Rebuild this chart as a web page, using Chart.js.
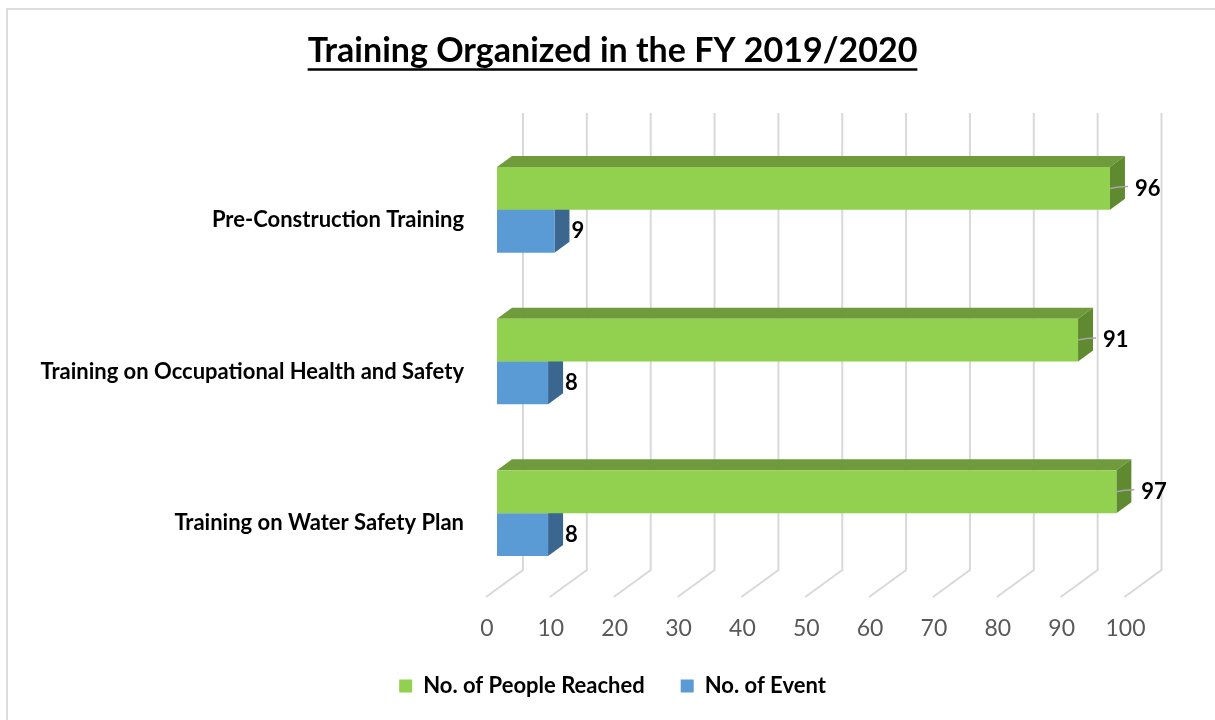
<!DOCTYPE html>
<html>
<head>
<meta charset="utf-8">
<script src="https://cdn.jsdelivr.net/npm/chart.js@4.4.1/dist/chart.umd.min.js"></script>
<style>
  html, body { margin: 0; padding: 0; background: #fff; }
  #wrap { position: relative; width: 1215px; height: 720px; }
  #frame { position: absolute; left: 6px; top: 8px; width: 1300px; height: 800px;
           border-left: 2px solid #dcdcdc; border-top: 2px solid #dcdcdc; }
  canvas { position: absolute; left: 0; top: 0; }
</style>
</head>
<body>
<div id="wrap">
  <div id="frame"></div>
  <canvas id="trainingChart" width="1215" height="720"></canvas>
</div>
<script>
// data
const categories = [
    'Pre-Construction Training',
    'Training on Occupational Health and Safety',
    'Training on Water Safety Plan'
];
const peopleReached = [96, 91, 97];
const events = [9, 8, 8];
const xTicks = [0, 10, 20, 30, 40, 50, 60, 70, 80, 90, 100];

const FONT = 'Lato, "Open Sans", sans-serif';
const depthX = 15, depthY = -11;   // 3d bar depth
const wallX = 26, floorX = -11;    // back wall / floor offsets of the gridlines
const titleSize = 34, titlePadTop = 31;

const faces = [
    { top: '#6f9b3c', side: '#5f8a30' },   // green
    { top: '#4a7db0', side: '#3a6690' }    // blue
];

function poly(ctx, pts, color) {
    ctx.beginPath();
    ctx.moveTo(pts[0][0], pts[0][1]);
    for (let i = 1; i < pts.length; i++) ctx.lineTo(pts[i][0], pts[i][1]);
    ctx.closePath();
    ctx.fillStyle = color;
    ctx.fill();
}

// walls, gridlines and bar depth
const threeD = {
    id: 'threeD',
    beforeDatasetsDraw(chart) {
        const {ctx, chartArea, scales: {x}} = chart;
        const top = chartArea.top - 21, bend = chartArea.bottom - 19, floor = chartArea.bottom + 8;
        ctx.save();
        ctx.strokeStyle = '#d9d9d9';
        ctx.lineWidth = 2;
        xTicks.forEach(v => {
            const px = x.getPixelForValue(v);
            ctx.beginPath();
            ctx.moveTo(px + wallX, top);
            ctx.lineTo(px + wallX, bend);
            ctx.lineTo(px + floorX, floor);
            ctx.stroke();
        });
        // blue first, then green
        for (let d = chart.data.datasets.length - 1; d >= 0; d--) {
            chart.getDatasetMeta(d).data.forEach(bar => {
                const {x: end, base, y, height} = bar.getProps(['x', 'base', 'y', 'height'], true);
                const t = y - height / 2, b = y + height / 2;
                poly(ctx, [[base, t], [base + depthX, t + depthY], [end + depthX, t + depthY], [end, t]], faces[d].top);
                poly(ctx, [[end, t], [end + depthX, t + depthY], [end + depthX, b + depthY], [end, b]], faces[d].side);
            });
        }
        ctx.restore();
    },
    afterDatasetsDraw(chart) {
        const {ctx} = chart;
        ctx.save();
        ctx.font = 'bold 22px ' + FONT;
        ctx.fillStyle = '#000';
        ctx.textBaseline = 'middle';
        chart.data.datasets.forEach((ds, d) => {
            chart.getDatasetMeta(d).data.forEach((bar, i) => {
                const {x: end, y} = bar.getProps(['x', 'y'], true);
                if (d === 0) {
                    ctx.strokeStyle = '#a6a6a6';
                    ctx.lineWidth = 1.5;
                    ctx.beginPath();
                    ctx.moveTo(end, y);
                    ctx.quadraticCurveTo(end + 8, y - 2, end + 18, y - 2);
                    ctx.stroke();
                    ctx.fillText(ds.data[i], end + 25, y);
                } else {
                    ctx.fillText(ds.data[i], end + 17, y);
                }
            });
        });
        // title underline
        const tb = chart.titleBlock;
        ctx.font = 'bold ' + titleSize + 'px ' + FONT;
        const w = ctx.measureText(chart.options.plugins.title.text).width;
        const cx = (tb.left + tb.right) / 2;
        const ly = tb.top + titlePadTop + titleSize * 0.6 + 18;
        ctx.strokeStyle = '#000';
        ctx.lineWidth = 2.5;
        ctx.beginPath();
        ctx.moveTo(cx - w / 2, ly);
        ctx.lineTo(cx + w / 2, ly);
        ctx.stroke();
        ctx.restore();
    }
};

const chartData = {
    labels: categories,
    datasets: [
        {
            label: 'No. of People Reached',
            data: peopleReached,
            backgroundColor: '#92d050',
            borderWidth: 0
        },
        {
            label: 'No. of Event',
            data: events,
            backgroundColor: '#5b9bd5',
            borderWidth: 0
        }
    ]
};

const config = {
    type: 'bar',
    data: chartData,
    options: {
        responsive: false,
        animation: false,
        indexAxis: 'y',
        categoryPercentage: 0.565,
        barPercentage: 1,
        layout: { padding: { left: 10, right: 0, top: 0, bottom: 13 } },
        scales: {
            x: {
                min: 0,
                max: 100,
                ticks: {
                    stepSize: 10,
                    padding: 26,
                    labelOffset: -10,
                    color: '#595959',
                    font: { family: FONT, size: 23 }
                },
                grid: { display: false, drawTicks: false },
                border: { display: false },
                afterFit(scale) { scale.height = 50; }
            },
            y: {
                ticks: {
                    padding: 33,
                    labelOffset: 10,
                    color: '#000',
                    font: { family: FONT, size: 22, weight: 'bold' }
                },
                grid: { display: false, drawTicks: false },
                border: { display: false },
                afterFit(scale) { scale.width = 487; }
            },
            // empty right axis keeps room for the value labels
            y2: {
                position: 'right',
                type: 'category',
                ticks: { display: false },
                grid: { display: false, drawTicks: false },
                border: { display: false },
                afterFit(scale) { scale.width = 79.5; }
            }
        },
        plugins: {
            title: {
                display: true,
                text: 'Training Organized in the FY 2019/2020',
                color: '#000',
                font: { family: FONT, size: titleSize, weight: 'bold', lineHeight: 1.2 },
                padding: { top: titlePadTop, bottom: 134 - titlePadTop - titleSize * 1.2 }
            },
            legend: {
                position: 'bottom',
                labels: {
                    boxWidth: 13,
                    boxHeight: 13,
                    padding: 36,
                    color: '#000',
                    font: { family: FONT, size: 22, weight: 'bold' }
                }
            },
            tooltip: { enabled: false }
        }
    },
    plugins: [threeD]
};

const chartElement = document.querySelector('#trainingChart');
const trainingChart = new Chart(chartElement, config);
</script>
</body>
</html>
